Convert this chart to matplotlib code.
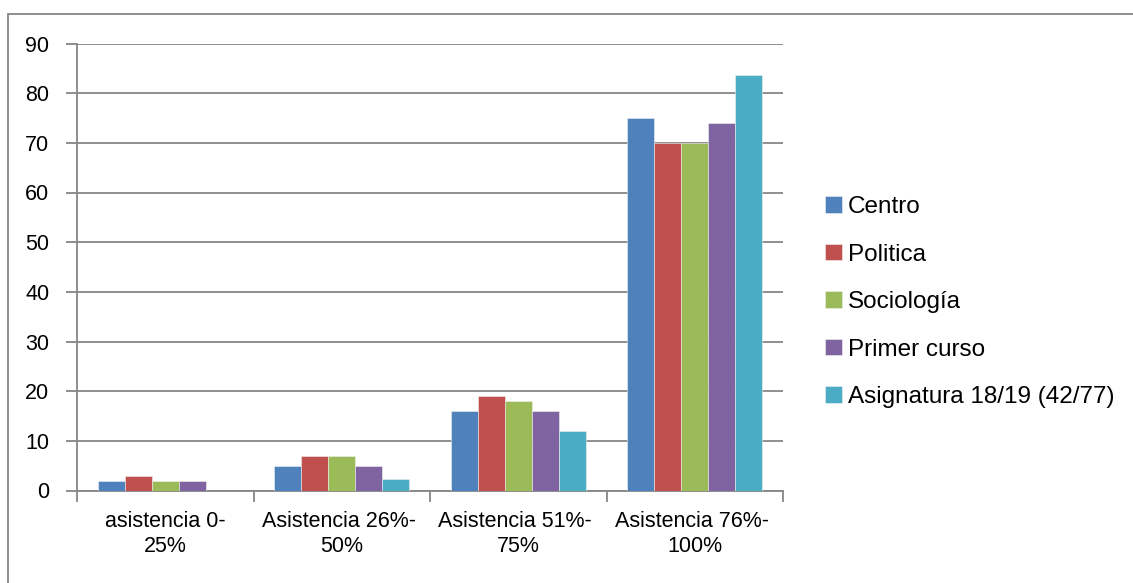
import numpy as np
import matplotlib
matplotlib.use("Agg")
import matplotlib.pyplot as plt
from matplotlib.patches import Rectangle

categories = ["asistencia 0-\n25%", "Asistencia 26%- \n50%", "Asistencia 51%- \n75%", "Asistencia 76%- \n100%"]
series_names = ["Centro", "Politica", "Sociología", "Primer curso", "Asignatura 18/19 (42/77)"]
centro = [2, 5, 16, 75]
politica = [3, 7, 19, 70]
sociologia = [2, 7, 18, 70]
primer_curso = [2, 5, 16, 74]
asignatura = [0, 2.4, 11.9, 83.6]
colors = ["#4F81BD", "#C0504D", "#9BBB59", "#8064A2", "#4BACC6"]
yticks = list(range(0, 100, 10))

plt.rcParams["font.family"] = ["Liberation Sans", "DejaVu Sans"]

W, H = 1133, 583
fig = plt.figure(figsize=(W / 100, H / 100), dpi=100)
ax = fig.add_axes([77 / W, 1 - 490.5 / H, (783 - 77) / W, (490.5 - 43.5) / H])

all_series = [centro, politica, sociologia, primer_curso, asignatura]
x = np.arange(len(categories))
bw = 0.153
for i, (vals, name, c) in enumerate(zip(all_series, series_names, colors)):
    offs = (i - 2) * bw
    ax.bar(x + offs, vals, width=bw, color=c, label=name, zorder=3,
           edgecolor="#f0f0f0", linewidth=0.4)

ax.set_xlim(-0.5, len(categories) - 0.5)
ax.set_ylim(0, 90)
ax.set_yticks(yticks)
ax.yaxis.grid(True, color="#868686", linewidth=1.3, zorder=0)
ax.set_axisbelow(True)

# category boundaries get the tick marks, labels sit in the middle
ax.set_xticks(np.arange(len(categories) + 1) - 0.5)
ax.set_xticklabels([])
ax.set_xticks(x, minor=True)
ax.set_xticklabels(categories, minor=True, fontsize=15.5, linespacing=1.25)
ax.tick_params(axis="x", which="minor", length=0, pad=15)
ax.tick_params(axis="x", which="major", length=8, color="#868686", width=1.3)
ax.tick_params(axis="y", length=8, color="#868686", width=1.3, labelsize=15.5, pad=12)

for s in ["top", "right"]:
    ax.spines[s].set_visible(False)
for s in ["left", "bottom"]:
    ax.spines[s].set_color("#868686")
    ax.spines[s].set_linewidth(1.3)

leg = fig.legend(loc="upper left", bbox_to_anchor=(825 / W, 1 - 196 / H),
                 frameon=False, fontsize=17.5, handlelength=0.68, handleheight=0.68,
                 handletextpad=0.25, labelspacing=1.05, borderaxespad=0, borderpad=0)

fig.add_artist(Rectangle((8 / W, -0.01), 1.02, 1 - 14 / H + 0.01,
                         transform=fig.transFigure, fill=False,
                         edgecolor="#868686", linewidth=1.3))

fig.savefig("out.png", dpi=100)
